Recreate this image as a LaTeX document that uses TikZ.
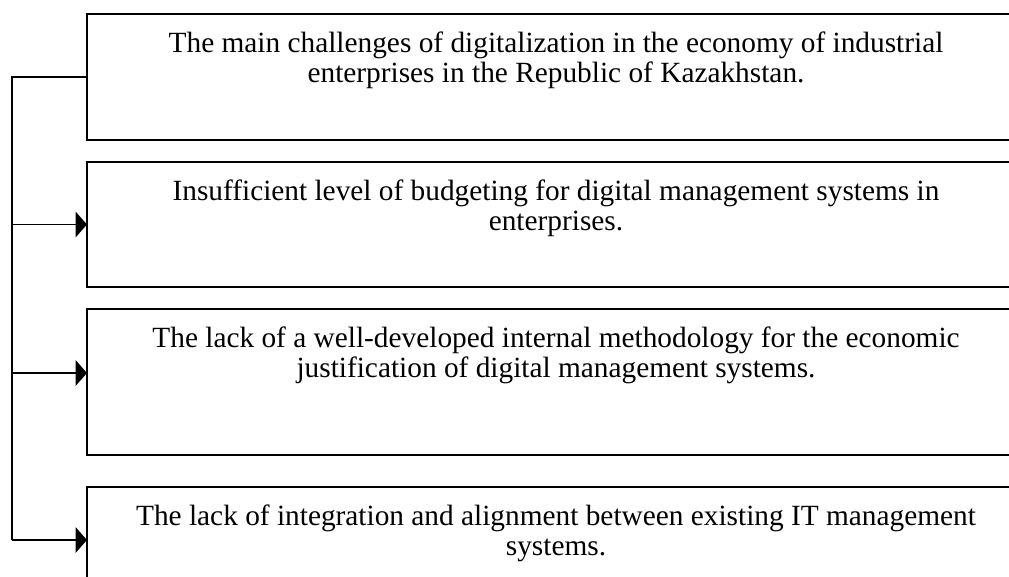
\documentclass[tikz,border=0pt]{standalone}
\usepackage{fontspec}
\setmainfont{Liberation Serif}
\usetikzlibrary{arrows.meta,calc}
\begin{document}
\begin{tikzpicture}[x=0.75pt,y=-0.75pt,
  box/.style={draw=black,line width=1.3pt,minimum width=703.5pt,inner sep=0pt,outer sep=0pt},
  txt/.style={anchor=north,align=center,inner sep=0pt,font=\fontsize{22}{22.5}\selectfont},
  link/.style={draw=black,line width=1.3pt},
  arr/.style={link,-{Triangle[length=8.5pt,width=19pt]}}]
\useasboundingbox (0,0) rectangle (1009,576);
\clip (0,0) rectangle (1009,576);
\node[box,minimum height=94.5pt] (b1) at (556,77) {};
\node[box,minimum height=93.75pt] (b2) at (556,224.5) {};
\node[box,minimum height=109.5pt] (b3) at (556,382) {};
\node[box,minimum height=79.5pt] (b4) at (556,540) {};
\node[txt] (t1) at ([yshift=-13.5pt]b1.north) {The main challenges of digitalization in the economy of industrial\\enterprises in the Republic of Kazakhstan.};
\node[txt] (t2) at ([yshift=-13.5pt]b2.north) {Insufficient level of budgeting for digital management systems in\\enterprises.};
\node[txt] (t3) at ([yshift=-13.5pt]b3.north) {The lack of a well-developed internal methodology for the economic\\justification of digital management systems.};
\node[txt] (t4) at ([yshift=-13.5pt]b4.north) {The lack of integration and alignment between existing IT management\\systems.};
\coordinate (a3) at ($(b3.north west)+(0,64)$);
\coordinate (s1) at (12,77);
\coordinate (s4) at (12,540);
\draw[link] (b1.west) -- (s1) -- (s4);
\draw[arr] (s4) -- (b4.west);
\draw[arr] (s1 |- b2.west) -- (b2.west);
\draw[arr] (s1 |- a3) -- (a3);
\end{tikzpicture}
\end{document}
